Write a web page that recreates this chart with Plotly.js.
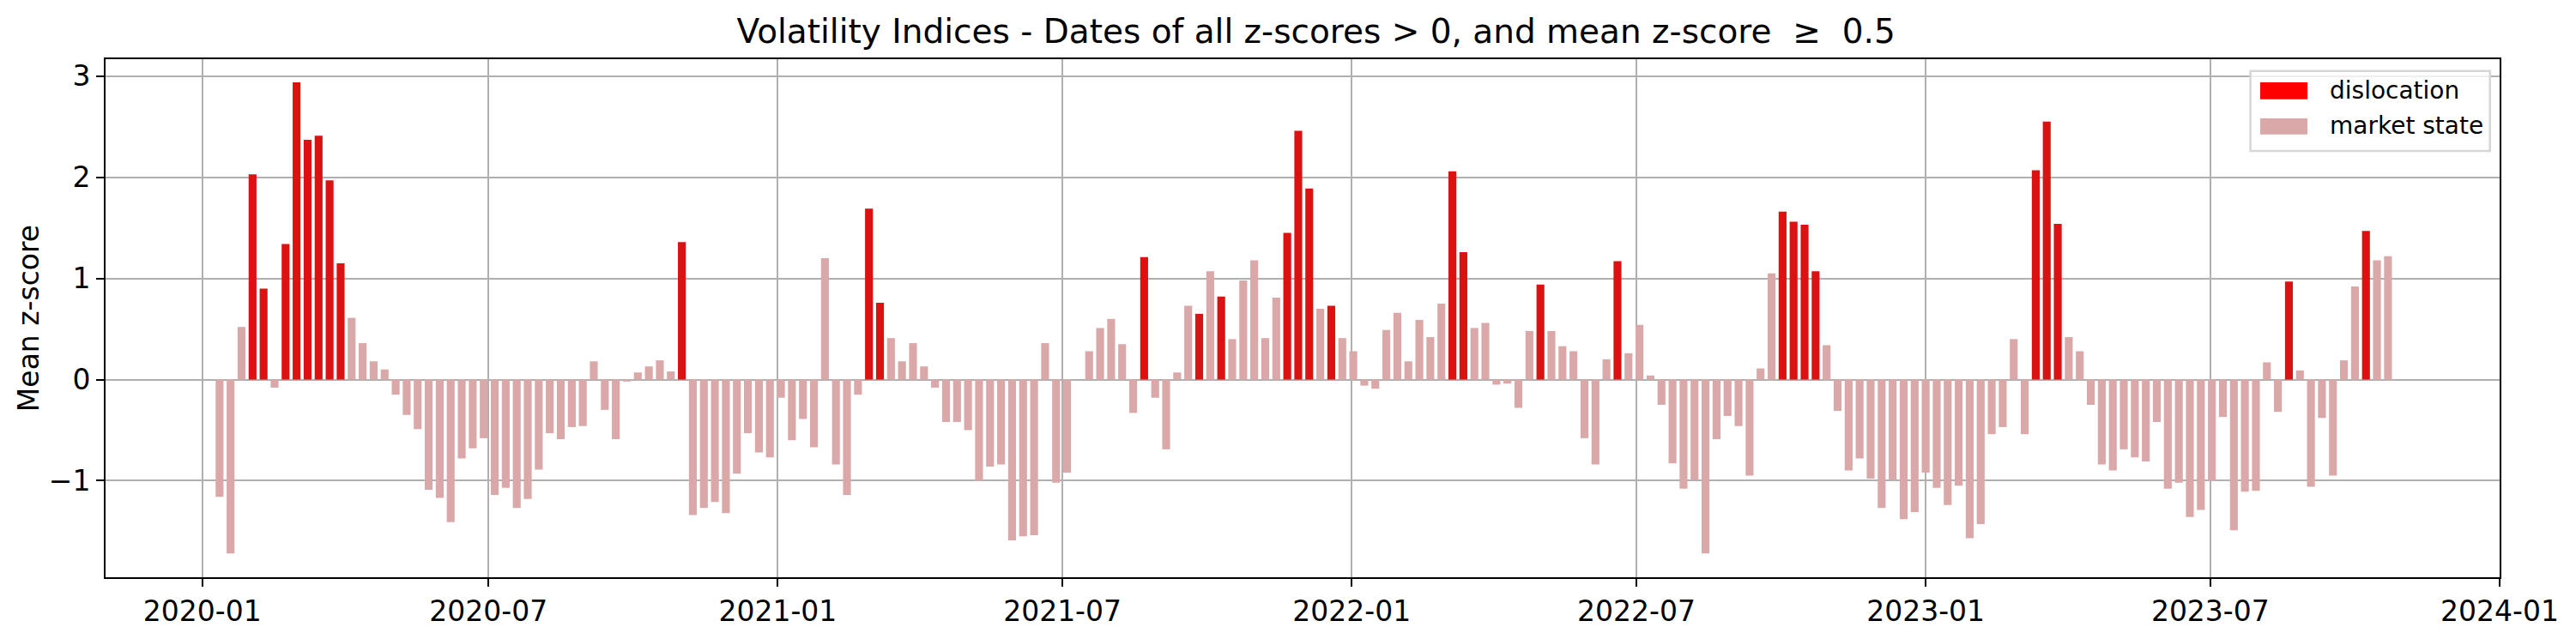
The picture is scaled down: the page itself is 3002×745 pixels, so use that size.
<!DOCTYPE html>
<html>
<head>
<meta charset="utf-8">
<script src="https://cdn.plot.ly/plotly-3.0.1.min.js"></script>
<style>html,body{margin:0;padding:0;background:#fff;}#chart{width:3002px;height:745px;}</style>
</head>
<body>
<div id="chart"></div>
<script>
// Weekly observations (week ending Sunday), first week and count
var firstWeek = '2020-01-12';
var weekCount = 198;

// Mean z-score per week
var meanZ = [
 -1.16,-1.72,0.52,2.03,0.90,-0.08,1.34,2.94,2.37,2.41,
 1.97,1.15,0.61,0.36,0.18,0.10,-0.15,-0.35,-0.49,-1.09,
 -1.17,-1.41,-0.78,-0.68,-0.58,-1.14,-1.07,-1.27,-1.18,-0.89,
 -0.53,-0.59,-0.47,-0.46,0.18,-0.30,-0.59,-0.02,0.07,0.13,
 0.19,0.08,1.36,-1.34,-1.27,-1.21,-1.32,-0.93,-0.53,-0.72,
 -0.77,-0.18,-0.60,-0.39,-0.67,1.20,-0.84,-1.14,-0.15,1.69,
 0.76,0.41,0.18,0.36,0.13,-0.08,-0.42,-0.42,-0.50,-1.00,
 -0.86,-0.84,-1.59,-1.55,-1.54,0.36,-1.02,-0.92,null,0.28,
 0.51,0.60,0.35,-0.33,1.21,-0.18,-0.69,0.07,0.73,0.65,
 1.07,0.82,0.40,0.98,1.18,0.41,0.81,1.45,2.46,1.89,
 0.70,0.73,0.41,0.28,-0.06,-0.09,0.49,0.66,0.18,0.59,
 0.42,0.75,2.06,1.26,0.51,0.56,-0.05,-0.04,-0.28,0.48,
 0.94,0.48,0.33,0.28,-0.58,-0.84,0.20,1.17,0.26,0.54,
 0.04,-0.25,-0.83,-1.08,-0.99,-1.72,-0.59,-0.36,-0.46,-0.95,
 0.11,1.05,1.66,1.56,1.53,1.07,0.34,-0.31,-0.90,-0.78,
 -0.98,-1.27,-0.99,-1.38,-1.31,-0.92,-1.07,-1.24,-1.05,-1.57,
 -1.43,-0.54,-0.47,0.40,-0.54,2.07,2.55,1.54,0.42,0.28,
 -0.25,-0.84,-0.90,-0.69,-0.77,-0.81,-0.42,-1.08,-1.02,-1.36,
 -1.29,-1.00,-0.37,-1.49,-1.11,-1.10,0.17,-0.32,0.97,0.09,
 -1.06,-0.38,-0.95,0.19,0.92,1.47,1.18,1.22
];

// Week indices flagged as dislocation
var dislocationWeeks = [3,4,6,7,8,9,10,11,42,59,60,84,89,91,97,98,99,101,
  112,113,120,127,142,143,144,145,165,166,167,188,195];

var seriesNames = ['dislocation', 'market state'];
var seriesColors = ['#dc1111', '#dba8aa'];
var legendColors = ['#ff0000', '#dba8aa'];
var xTickVals = ['2020-01-01','2020-07-01','2021-01-01','2021-07-01','2022-01-01',
  '2022-07-01','2023-01-01','2023-07-01','2024-01-01'];
var xTickText = ['2020-01','2020-07','2021-01','2021-07','2022-01','2022-07','2023-01','2023-07','2024-01'];
var yTickVals = [-1, 0, 1, 2, 3];

// build weekly dates
var dates = [];
var d0 = new Date(firstWeek + 'T00:00:00Z');
for (var i = 0; i < weekCount; i++) {
  var d = new Date(d0.getTime() + i * 7 * 86400000);
  dates.push(d.toISOString().slice(0, 10));
}
var isDis = {};
dislocationWeeks.forEach(function (k) { isDis[k] = true; });
var disY = meanZ.map(function (v, k) { return isDis[k] ? v : null; });
var mktY = meanZ.map(function (v, k) { return isDis[k] ? null : v; });

var barWidth = 5 * 86400000;
var FONT = 'DejaVu Sans, Liberation Sans, sans-serif';

var traces = [
  {type: 'bar', x: dates, y: mktY, name: seriesNames[1], width: barWidth,
   marker: {color: seriesColors[1], line: {width: 0}}, showlegend: false, hoverinfo: 'x+y'},
  {type: 'bar', x: dates, y: disY, name: seriesNames[0], width: barWidth,
   marker: {color: seriesColors[0], line: {width: 0}}, showlegend: false, hoverinfo: 'x+y'}
];

// legend drawn as a box with patches and labels (paper coordinates)
var shapes = [
  {type: 'rect', xref: 'paper', yref: 'paper', x0: 0.8959, x1: 0.99595, y0: 0.82285, y1: 0.97732,
   fillcolor: 'rgba(255,255,255,0.8)', line: {color: '#d6d6d6', width: 2.5}, layer: 'above'},
  {type: 'rect', xref: 'paper', yref: 'paper', x0: 0.9000, x1: 0.91971, y0: 0.92268, y1: 0.95530,
   fillcolor: legendColors[0], line: {width: 0}, layer: 'above'},
  {type: 'rect', xref: 'paper', yref: 'paper', x0: 0.9000, x1: 0.91971, y0: 0.85480, y1: 0.88576,
   fillcolor: legendColors[1], line: {width: 0}, layer: 'above'}
];
var annotations = [
  {xref: 'paper', yref: 'paper', x: 0.9282, y: 0.9395, xanchor: 'left', yanchor: 'middle',
   text: seriesNames[0], showarrow: false, font: {family: FONT, size: 28, color: '#000000'}},
  {xref: 'paper', yref: 'paper', x: 0.9282, y: 0.8712, xanchor: 'left', yanchor: 'middle',
   text: seriesNames[1], showarrow: false, font: {family: FONT, size: 28, color: '#000000'}}
];

var layout = {
  width: 3002, height: 745,
  margin: {l: 123, r: 89, t: 69, b: 72, pad: 0},
  paper_bgcolor: '#ffffff', plot_bgcolor: '#ffffff',
  barmode: 'overlay',
  font: {family: FONT, color: '#000000', size: 33},
  title: {text: 'Volatility Indices - Dates of all z-scores > 0, and mean z-score  \u2265  0.5',
    font: {family: FONT, size: 39, color: '#000000'},
    x: 0.5056, xref: 'paper', xanchor: 'center', y: 0.951, yref: 'container', yanchor: 'middle'},
  xaxis: {
    type: 'date', range: ['2019-10-31T12:00:00', '2024-01-01T00:00:00'],
    tickvals: xTickVals, ticktext: xTickText,
    showgrid: true, gridcolor: '#b0b0b0', gridwidth: 2,
    showline: true, linecolor: '#000000', linewidth: 2, mirror: true,
    ticks: 'outside', ticklen: 9, tickwidth: 2, tickcolor: '#000000',
    tickfont: {family: FONT, size: 33, color: '#000000'},
    zeroline: false
  },
  yaxis: {
    range: [-1.955, 3.168],
    tickvals: yTickVals,
    showgrid: true, gridcolor: '#b0b0b0', gridwidth: 2,
    showline: true, linecolor: '#000000', linewidth: 2, mirror: true,
    ticks: 'outside', ticklen: 9, tickwidth: 2, tickcolor: '#000000',
    tickfont: {family: FONT, size: 33, color: '#000000'},
    zeroline: false,
    title: {text: 'Mean z-score', font: {family: FONT, size: 33, color: '#000000'}, standoff: 1}
  },
  shapes: shapes,
  annotations: annotations,
  showlegend: false
};

Plotly.newPlot('chart', traces, layout, {displayModeBar: false, staticPlot: true});
</script>
</body>
</html>
